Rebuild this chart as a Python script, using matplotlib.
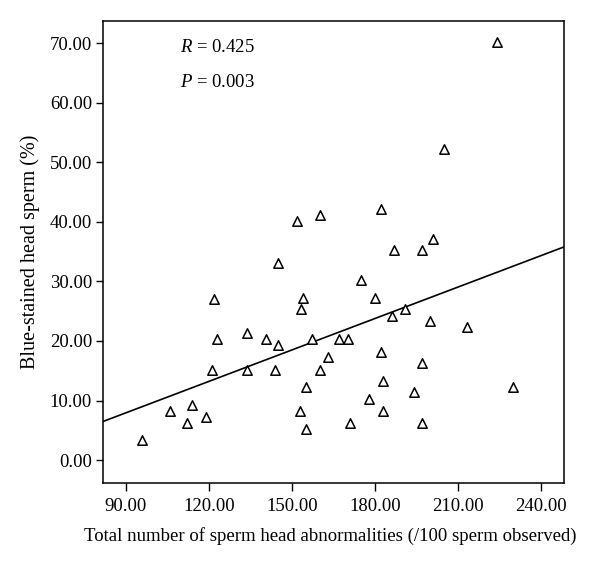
import numpy as np
import matplotlib
matplotlib.use("Agg")
import matplotlib.pyplot as plt

# Total sperm head abnormalities (/100 sperm) vs blue-stained head sperm (%)
abnormalities = [
    95.9, 105.9, 111.9, 114.0, 118.9, 121.0, 123.0, 133.8, 133.8, 140.6,
    121.9, 145.0, 151.9, 160.1, 182.0, 187.0, 174.9, 180.0, 154.1, 153.1,
    186.0, 190.8, 196.9, 201.1, 199.9, 213.1, 224.0, 204.9, 145.0, 143.8,
    157.1, 167.0, 170.1, 162.9, 160.1, 154.9, 153.0, 154.9, 171.0, 182.0,
    183.0, 177.9, 183.0, 196.9, 194.1, 196.9, 230.0,
]
blue_stained = [
    3.3, 8.3, 6.3, 9.2, 7.3, 15.2, 20.3, 21.3, 15.2, 20.3,
    27.1, 33.1, 40.2, 41.2, 42.2, 35.2, 30.3, 27.3, 27.3, 25.3,
    24.2, 25.3, 35.2, 37.2, 23.4, 22.3, 70.2, 52.2, 19.3, 15.2,
    20.3, 20.3, 20.3, 17.3, 15.2, 12.2, 8.3, 5.3, 6.3, 18.2,
    13.3, 10.2, 8.3, 16.3, 11.4, 6.3, 12.3,
]

# fitted line as drawn in the figure
fit_intercept = -7.9
fit_slope = 0.176

xticks = [90, 120, 150, 180, 210, 240]
yticks = [0, 10, 20, 30, 40, 50, 60, 70]

plt.rcParams['font.family'] = ['Liberation Serif', 'DejaVu Serif']
plt.rcParams['mathtext.fontset'] = 'custom'
plt.rcParams['mathtext.it'] = 'Liberation Serif:italic'
plt.rcParams['mathtext.rm'] = 'Liberation Serif'

fig = plt.figure(figsize=(6, 5.68), dpi=100)
ax = fig.add_axes([0.1717, 0.1502, 0.94 - 0.1717, 0.9636 - 0.1502])

ax.scatter(abnormalities, blue_stained, marker='^', s=46, facecolors='white',
           edgecolors='black', linewidths=1.1, zorder=3)

xmin, xmax = 81.7, 248.3
xl = np.array([xmin, xmax])
ax.plot(xl, fit_intercept + fit_slope * xl, color='black', lw=1.2, zorder=2)

ax.set_xlim(xmin, xmax)
ax.set_ylim(-3.8, 73.8)
ax.set_xticks(xticks)
ax.set_yticks(yticks)
ax.set_xticklabels([f"{v:.2f}" for v in xticks])
ax.set_yticklabels([f"{v:.2f}" for v in yticks])
ax.tick_params(axis='x', direction='out', length=6, width=1, labelsize=13.5, pad=5)
ax.tick_params(axis='y', direction='out', length=5, width=1, labelsize=13.5, pad=3)
for sp in ax.spines.values():
    sp.set_linewidth(1.1)

ax.set_xlabel("Total number of sperm head abnormalities (/100 sperm observed)",
              fontsize=13.5, labelpad=7)
ax.xaxis.set_label_coords(0.493, -0.095)
ax.set_ylabel("Blue-stained head sperm (%)", fontsize=14.5, labelpad=7)

ax.text(0.167, 0.941, r"$R$ = 0.425", transform=ax.transAxes, fontsize=13.5,
        va='center', ha='left')
ax.text(0.167, 0.866, r"$P$ = 0.003", transform=ax.transAxes, fontsize=13.5,
        va='center', ha='left')

fig.savefig("out.png", dpi=100)
